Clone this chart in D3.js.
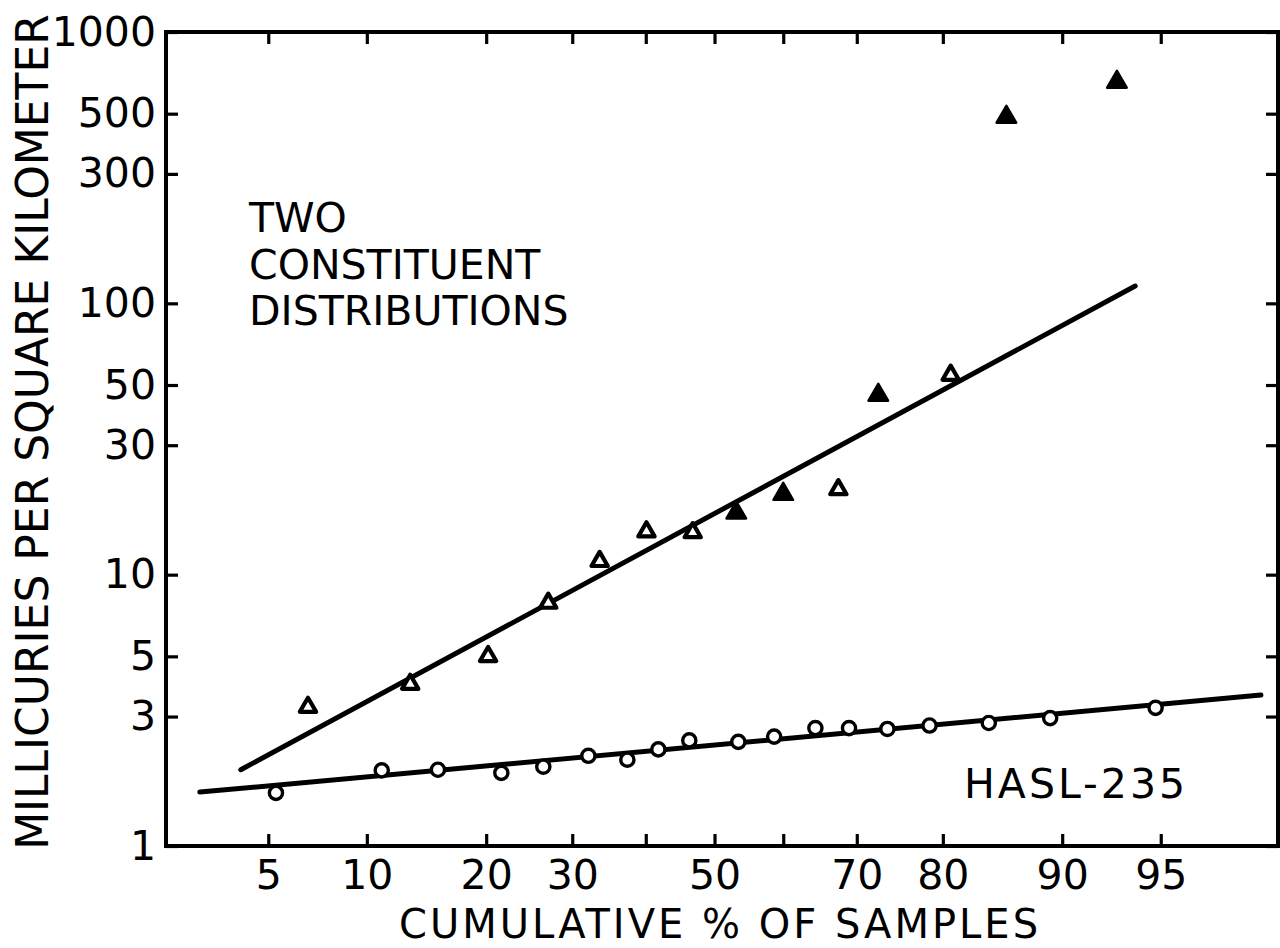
<!DOCTYPE html>
<html><head><meta charset="utf-8">
<script src="https://cdn.jsdelivr.net/npm/d3@7"></script>
<style>
body{margin:0;background:#fff}
svg{display:block}
text{font-family:"DejaVu Sans",sans-serif;fill:#000}
</style>
</head><body>
<svg id="chart" width="1280" height="948"></svg>
<script>
// ---------- data ----------
const xTickValues = [5, 10, 20, 30, 40, 50, 60, 70, 80, 90, 95];
const xTickLabels = ["5", "10", "20", "30", "", "50", "", "70", "80", "90", "95"];
const yTickValues = [1, 3, 5, 10, 30, 50, 100, 300, 500, 1000];
const yTickLabels = ["1", "3", "5", "10", "30", "50", "100", "300", "500", "1000"];
const xDomainPct = [2.16, 98.11];
const yDomain = [1, 1000];

// triangles (cumulative %, mCi/km2); filled flag as in the original
const triPct = [6.7, 13.1, 20.2, 27.0, 33.6, 40.1, 46.8, 53.2, 60.0, 67.6, 72.7, 80.8, 85.9, 93.1];
const triVal = [3.25, 3.95, 5.0, 7.86, 11.2, 14.4, 14.3, 16.9, 19.8, 20.6, 45.9, 54.4, 486, 654];
const triFilled = [0, 0, 0, 0, 0, 0, 0, 1, 1, 0, 1, 0, 1, 1];

// circles
const circPct = [5.3, 11.0, 15.4, 21.6, 26.4, 32.1, 37.4, 41.8, 46.3, 53.5, 58.7, 64.5, 69.0, 73.8, 78.6, 84.4, 89.2, 94.8];
const circVal = [1.57, 1.90, 1.91, 1.86, 1.96, 2.15, 2.08, 2.27, 2.45, 2.42, 2.53, 2.72, 2.72, 2.70, 2.78, 2.84, 2.96, 3.23];

// fitted lines (end points)
const triLinePct = [4.04, 93.95];
const triLineVal = [1.91, 115.8];
const circLinePct = [2.89, 97.8];
const circLineVal = [1.58, 3.60];

// ---------- helpers ----------
function probit(p) {
  // Acklam's inverse normal CDF
  const a = [-3.969683028665376e+01, 2.209460984245205e+02, -2.759285104469687e+02, 1.383577518672690e+02, -3.066479806614716e+01, 2.506628277459239e+00];
  const b = [-5.447609879822406e+01, 1.615858368580409e+02, -1.556989798598866e+02, 6.680131188771972e+01, -1.328068155288572e+01];
  const c = [-7.784894002430293e-03, -3.223964580411365e-01, -2.400758277161838e+00, -2.549732539343734e+00, 4.374664141464968e+00, 2.938163982698783e+00];
  const d = [7.784695709041462e-03, 3.224671290700398e-01, 2.445134137142996e+00, 3.754408661907416e+00];
  const pl = 0.02425, ph = 1 - pl;
  let q, r;
  if (p < pl) {
    q = Math.sqrt(-2 * Math.log(p));
    return (((((c[0]*q+c[1])*q+c[2])*q+c[3])*q+c[4])*q+c[5]) / ((((d[0]*q+d[1])*q+d[2])*q+d[3])*q+1);
  } else if (p <= ph) {
    q = p - 0.5; r = q * q;
    return (((((a[0]*r+a[1])*r+a[2])*r+a[3])*r+a[4])*r+a[5])*q / (((((b[0]*r+b[1])*r+b[2])*r+b[3])*r+b[4])*r+1);
  } else {
    q = Math.sqrt(-2 * Math.log(1 - p));
    return -(((((c[0]*q+c[1])*q+c[2])*q+c[3])*q+c[4])*q+c[5]) / ((((d[0]*q+d[1])*q+d[2])*q+d[3])*q+1);
  }
}
const z = pct => probit(pct / 100);

// ---------- layout ----------
const L = 166, R = 1278, T = 32, B = 846;
const svg = d3.select("#chart");

const xz = d3.scaleLinear().domain(xDomainPct.map(z)).range([L, R]);
const x = pct => xz(z(pct));
const y = d3.scaleLog().domain(yDomain).range([B, T]);

const FS = 41;

// frame
svg.append("rect").attr("x", L).attr("y", T).attr("width", R - L).attr("height", B - T)
  .attr("fill", "none").attr("stroke", "#000").attr("stroke-width", 4);

// axes
function styleAxis(g) {
  g.select(".domain").remove();
  g.selectAll(".tick line").attr("stroke", "#000").attr("stroke-width", 3.2);
  g.selectAll(".tick text").attr("font-size", FS).attr("fill", "#000")
    .attr("font-family", "DejaVu Sans, sans-serif");
}

const xTickZ = xTickValues.map(z);
const bottomAxis = d3.axisBottom(xz).tickValues(xTickZ)
  .tickFormat((d, i) => xTickLabels[i]).tickSizeInner(-12).tickSizeOuter(0).tickPadding(14);
svg.append("g").attr("transform", `translate(0,${B})`).call(bottomAxis).call(styleAxis);

const topAxis = d3.axisTop(xz).tickValues(xTickZ)
  .tickFormat("").tickSizeInner(-12).tickSizeOuter(0);
svg.append("g").attr("transform", `translate(0,${T})`).call(topAxis).call(styleAxis);

const leftAxis = d3.axisLeft(y).tickValues(yTickValues)
  .tickFormat((d, i) => yTickLabels[i]).tickSizeInner(-12).tickSizeOuter(0).tickPadding(10);
svg.append("g").attr("transform", `translate(${L},0)`).call(leftAxis).call(styleAxis);

const rightAxis = d3.axisRight(y).tickValues(yTickValues)
  .tickFormat("").tickSizeInner(-12).tickSizeOuter(0);
svg.append("g").attr("transform", `translate(${R},0)`).call(rightAxis).call(styleAxis);

// axis titles
svg.append("text").attr("transform", "translate(48,432) rotate(-90)")
  .attr("text-anchor", "middle").attr("font-size", 44)
  .text("MILLICURIES PER SQUARE KILOMETER");
svg.append("text").attr("x", 720).attr("y", 938)
  .attr("text-anchor", "middle").attr("font-size", 40).attr("letter-spacing", 3)
  .text("CUMULATIVE % OF SAMPLES");

// annotations
const ann = svg.append("g").attr("font-size", FS);
ann.append("text").attr("x", 249).attr("y", 232).text("TWO");
ann.append("text").attr("x", 249).attr("y", 279).text("CONSTITUENT");
ann.append("text").attr("x", 249).attr("y", 325).text("DISTRIBUTIONS");
ann.append("text").attr("x", 964).attr("y", 798).attr("letter-spacing", 3).text("HASL-235");

// fitted lines
const line = d3.line().x(d => x(d[0])).y(d => y(d[1]));
svg.append("path").datum(triLinePct.map((p, i) => [p, triLineVal[i]]))
  .attr("d", line).attr("fill", "none").attr("stroke", "#000").attr("stroke-width", 5).attr("stroke-linecap", "round");
svg.append("path").datum(circLinePct.map((p, i) => [p, circLineVal[i]]))
  .attr("d", line).attr("fill", "none").attr("stroke", "#000").attr("stroke-width", 5).attr("stroke-linecap", "round");

// circles
svg.append("g").selectAll("circle").data(circPct.map((p, i) => [p, circVal[i]]))
  .join("circle").attr("cx", d => x(d[0])).attr("cy", d => y(d[1])).attr("r", 6.6)
  .attr("fill", "#fff").attr("stroke", "#000").attr("stroke-width", 3.4);

// triangles
const triSym = d3.symbol().type(d3.symbolTriangle);
svg.append("g").selectAll("path").data(triPct.map((p, i) => [p, triVal[i], triFilled[i]]))
  .join("path")
  .attr("transform", d => `translate(${x(d[0])},${y(d[1])})`)
  .attr("d", d => triSym.size(d[2] ? 165 : 115)())
  .attr("fill", d => d[2] ? "#000" : "#fff")
  .attr("stroke", "#000").attr("stroke-width", d => d[2] ? 2.5 : 4.2).attr("stroke-linejoin", "round");
</script>
</body></html>
